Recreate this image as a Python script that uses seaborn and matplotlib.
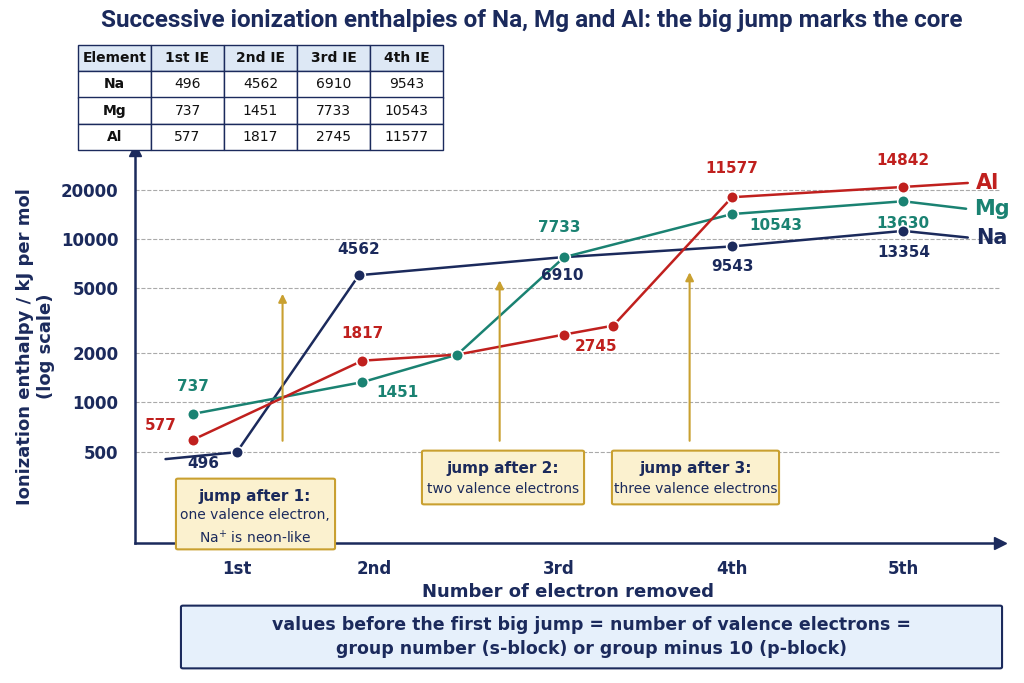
import numpy as np
import matplotlib
matplotlib.use("Agg")
import matplotlib.pyplot as plt
import seaborn as sns
from matplotlib.patches import FancyBboxPatch

sns.set_theme(style="white")
plt.rcParams['font.family'] = ['DejaVu Sans']

NAVY = "#1b2a5c"
TEAL = "#1a8272"
RED = "#c0201e"
GOLD = "#c9a030"

# table data
tbl_cols = ["Element", "1st IE", "2nd IE", "3rd IE", "4th IE"]
tbl_rows = [["Na", "496", "4562", "6910", "9543"],
            ["Mg", "737", "1451", "7733", "10543"],
            ["Al", "577", "1817", "2745", "11577"]]

# x in axis units (roughly the positions drawn in the picture)
tick_pos = [0.60, 1.41, 2.50, 3.52, 4.53]
tick_lab = ["1st", "2nd", "3rd", "4th", "5th"]

na_x = [0.18, 0.60, 1.32, 2.50, 3.52, 4.53, 4.91]
na_y = [450, 496, 6000, 7700, 9000, 11200, 10200]
na_mark = [1, 2, 4, 5]
mg_x = [0.34, 1.34, 1.90, 2.53, 3.52, 4.53, 4.90]
mg_y = [850, 1330, 1960, 7733, 14200, 17000, 15300]
mg_mark = [0, 1, 2, 3, 4, 5]
al_x = [0.34, 1.34, 1.90, 2.53, 2.82, 3.52, 4.53, 4.91]
al_y = [590, 1800, 1960, 2600, 2950, 18000, 20800, 22000]
al_mark = [0, 1, 3, 4, 5, 6]

fig = plt.figure(figsize=(10.24, 6.83), dpi=100)
ax = fig.add_axes([135/1024, 1-543/683, 865/1024, 393/683])

for xs, ys, mk, c, name in [(na_x, na_y, na_mark, NAVY, "Na"),
                            (mg_x, mg_y, mg_mark, TEAL, "Mg"),
                            (al_x, al_y, al_mark, RED, "Al")]:
    sns.lineplot(x=xs, y=ys, ax=ax, color=c, lw=1.8, sort=False, estimator=None)
    ax.scatter([xs[i] for i in mk], [ys[i] for i in mk], s=70, color=c,
               edgecolor="white", linewidth=1.2, zorder=5)
    ax.text(xs[-1] + 0.05, ys[-1], name, color=c, fontsize=15,
            fontweight="bold", va="center")

ax.set_yscale("log")
ax.set_ylim(138, 35000)
ax.set_xlim(0, 5.1)
yt = [500, 1000, 2000, 5000, 10000, 20000]
ax.set_yticks(yt)
ax.set_yticklabels([str(v) for v in yt], fontsize=12, fontweight="bold", color=NAVY)
ax.yaxis.set_minor_locator(matplotlib.ticker.NullLocator())
for v in yt:
    ax.axhline(v, color="#aaaaaa", ls="--", lw=0.8, zorder=0)
ax.set_xticks(tick_pos)
ax.set_xticklabels(tick_lab, fontsize=12, fontweight="bold", color=NAVY)
ax.tick_params(length=0, pad=12)
for s in ["top", "right"]:
    ax.spines[s].set_visible(False)
for s in ["left", "bottom"]:
    ax.spines[s].set_color(NAVY)
    ax.spines[s].set_linewidth(1.8)
ax.plot(1, 0, ">", transform=ax.transAxes, color=NAVY, clip_on=False, ms=8)
ax.plot(0, 1, "^", transform=ax.transAxes, color=NAVY, clip_on=False, ms=8)
ax.set_xlabel("Number of electron removed", fontsize=13, fontweight="bold", color=NAVY)
ax.set_ylabel("Ionization enthalpy / kJ per mol\n(log scale)", fontsize=13,
              fontweight="bold", color=NAVY)

# point labels
labs = [(0.40, 420, "496", NAVY), (1.32, 8600, "4562", NAVY), (2.52, 6000, "6910", NAVY),
        (3.52, 6800, "9543", NAVY), (4.53, 8300, "13354", NAVY),
        (0.34, 1250, "737", TEAL), (1.55, 1150, "1451", TEAL), (2.50, 11800, "7733", TEAL),
        (3.78, 12000, "10543", TEAL), (4.53, 12400, "13630", TEAL),
        (0.15, 720, "577", RED), (1.34, 2650, "1817", RED), (2.72, 2200, "2745", RED),
        (3.52, 27000, "11577", RED), (4.53, 30000, "14842", RED)]
for x, y, t, c in labs:
    ax.text(x, y, t, color=c, fontsize=11, fontweight="bold", ha="center", va="center")

# jump arrows
for x, y0, y1 in [(0.87, 560, 4800), (2.15, 560, 5800), (3.27, 560, 6500)]:
    ax.annotate("", xy=(x, y1), xytext=(x, y0),
                arrowprops=dict(arrowstyle="-|>", color=GOLD, lw=1.5))

def box(x0, y0, x1, y1, fc, ec):
    fig.patches.append(FancyBboxPatch((x0/1024, 1-y1/683), (x1-x0)/1024, (y1-y0)/683,
                       boxstyle="round,pad=0.002", fc=fc, ec=ec, lw=1.5,
                       transform=fig.transFigure, zorder=10))

box(178, 480, 333, 548, "#fbf1cf", GOLD)
fig.text(255/1024, 1-496/683, "jump after 1:", ha="center", va="center", fontsize=11,
         fontweight="bold", color=NAVY, zorder=11)
fig.text(255/1024, 1-527/683, "one valence electron,\nNa$^{+}$ is neon-like", ha="center",
         va="center", fontsize=10, color=NAVY, zorder=11, linespacing=1.5)
for x0, x1, t in [(424, 582, "two valence electrons"), (614, 777, "three valence electrons")]:
    box(x0, 452, x1, 503, "#fbf1cf", GOLD)
    n = "2" if x0 == 424 else "3"
    fig.text((x0+x1)/2/1024, 1-468/683, f"jump after {n}:", ha="center", va="center",
             fontsize=11, fontweight="bold", color=NAVY, zorder=11)
    fig.text((x0+x1)/2/1024, 1-489/683, t, ha="center", va="center", fontsize=10,
             color=NAVY, zorder=11)

box(183, 607, 1000, 667, "#e6f0fb", NAVY)
fig.text(591/1024, 1-637/683, "values before the first big jump = number of valence electrons =\n"
         "group number (s-block) or group minus 10 (p-block)", ha="center", va="center",
         fontsize=12.5, fontweight="bold", color=NAVY, zorder=11, linespacing=1.4)

fig.text(0.519, 1-20/683, "Successive ionization enthalpies of Na, Mg and Al: the big jump marks the core",
         ha="center", va="center", fontsize=17.5, fontweight="bold", color=NAVY,
         family=["Roboto", "DejaVu Sans"])

# table
tax = fig.add_axes([78/1024, 1-150/683, 365/1024, 105/683])
tax.axis("off")
tb = tax.table(cellText=tbl_rows, colLabels=tbl_cols, bbox=[0, 0, 1, 1], cellLoc="center")
tb.auto_set_font_size(False)
for (r, c), cell in tb.get_celld().items():
    cell.set_edgecolor(NAVY)
    cell.set_linewidth(1.0)
    cell.get_text().set_fontsize(10)
    cell.get_text().set_color("#111111")
    if r == 0:
        cell.set_facecolor("#dde8f5")
        cell.get_text().set_fontweight("bold")
    if c == 0:
        cell.get_text().set_fontweight("bold")

fig.savefig("out.png", dpi=100)
